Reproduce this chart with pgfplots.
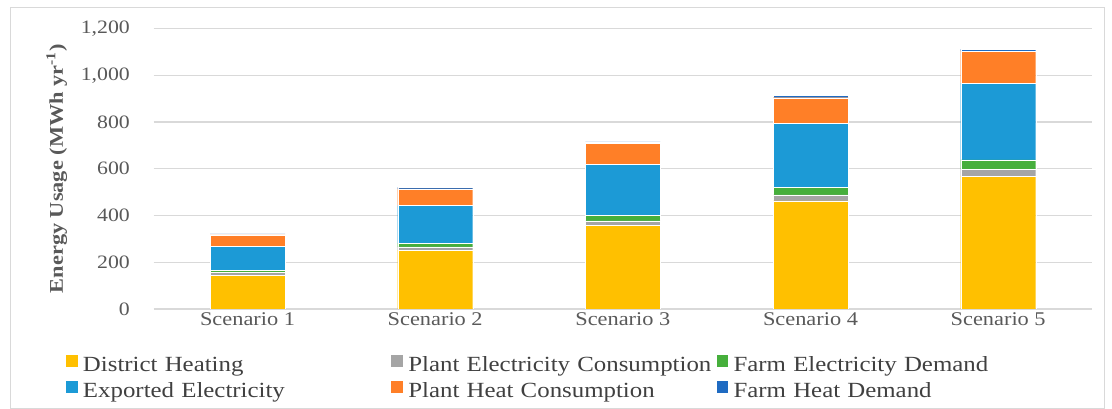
\documentclass[border=0pt]{standalone}
\usepackage{fontspec}
\setmainfont{Liberation Serif}[FakeStretch=1.15]
\usepackage{pgfplots}
\pgfplotsset{compat=1.18}
\definecolor{cDH}{HTML}{FFC000}
\definecolor{cPE}{HTML}{A5A5A5}
\definecolor{cFE}{HTML}{46AF3C}
\definecolor{cEE}{HTML}{1C9AD6}
\definecolor{cPH}{HTML}{FF7F27}
\definecolor{cFH}{HTML}{1F6BC2}
\definecolor{tgray}{HTML}{595959}
\definecolor{lgray}{HTML}{404040}
\definecolor{grid}{HTML}{D9D9D9}
\begin{document}
\begin{tikzpicture}
\path[use as bounding box] (0,0) rectangle (1112bp,409bp);
\draw[color=grid, line width=1bp] (10bp,1bp) rectangle (1104bp,401bp);
\begin{axis}[
  at={(153.7bp,100bp)}, anchor=south west,
  scale only axis, width=938.3bp, height=280.5bp,
  ybar stacked, bar width=75bp,
  xmin=-0.5, xmax=4.5, ymin=0, ymax=1200,
  xtick={0,1,2,3,4},
  xticklabels={Scenario 1,Scenario 2,Scenario 3,Scenario 4,Scenario 5},
  ytick={0,200,400,600,800,1000,1200},
  ymajorgrids, grid style={color=grid, line width=1.3bp},
  axis line style={draw=none},
  major tick length=0pt,
  /pgf/number format/.cd, 1000 sep={,}, assume math mode=true, /pgfplots/.cd,
  yticklabel style={font=\fontsize{19}{22}\selectfont, color=tgray, anchor=east, inner sep=0pt, xshift=-23.7bp},
  xticklabel style={font=\fontsize{19.5}{22}\selectfont, color=tgray, anchor=north, inner sep=0pt, yshift=-3bp},
  every axis y label/.style={at={(axis description cs:-0.1034,0.5)}, rotate=90, anchor=center},
  ylabel={\fontsize{19.5}{22}\selectfont\bfseries\color{tgray}Energy Usage (MWh yr\textsuperscript{-1})},
  legend columns=3,
  legend cell align=left,
  legend image code/.code={\fill[#1] (0bp,-0.5bp) rectangle (12.5bp,12bp);},
  legend style={at={(axis description cs:0,0)}, anchor=north west, xshift=-88.7bp, yshift=-45bp,
    draw=none, fill=none, inner sep=0pt, row sep=4bp,
    font=\fontsize{21.7}{24}\selectfont, text=lgray,
    nodes={inner sep=0pt, text height=15bp, text depth=5bp, text width=300bp, align=left},
    /tikz/every odd column/.append style={column sep=5bp},
    /tikz/every even column/.append style={column sep=7.5bp}},
]
\addplot[fill=cDH, draw=white, line width=0.3bp] coordinates {(0,145) (1,252) (2,357) (3,463) (4,568)};
\addplot[fill=cPE, draw=white, line width=0.3bp] coordinates {(0,12) (1,14) (2,20) (3,25) (4,29)};
\addplot[fill=cFE, draw=white, line width=0.3bp] coordinates {(0,8) (1,16) (2,23) (3,33) (4,41)};
\addplot[fill=cEE, draw=white, line width=0.3bp] coordinates {(0,103) (1,161) (2,220) (3,272) (4,328)};
\addplot[fill=cPH, draw=white, line width=0.3bp] coordinates {(0,49) (1,71) (2,90) (3,111) (4,137)};
\addplot[fill=cFH, draw=white, line width=0.3bp] coordinates {(0,4) (1,6) (2,5) (3,9) (4,8)};
\legend{\mbox{District Heating}, \mbox{Plant Electricity Consumption}, \mbox{Farm Electricity Demand}, \mbox{Exported Electricity}, \mbox{Plant Heat Consumption}, \mbox{Farm Heat Demand}}
\end{axis}
\end{tikzpicture}
\end{document}
